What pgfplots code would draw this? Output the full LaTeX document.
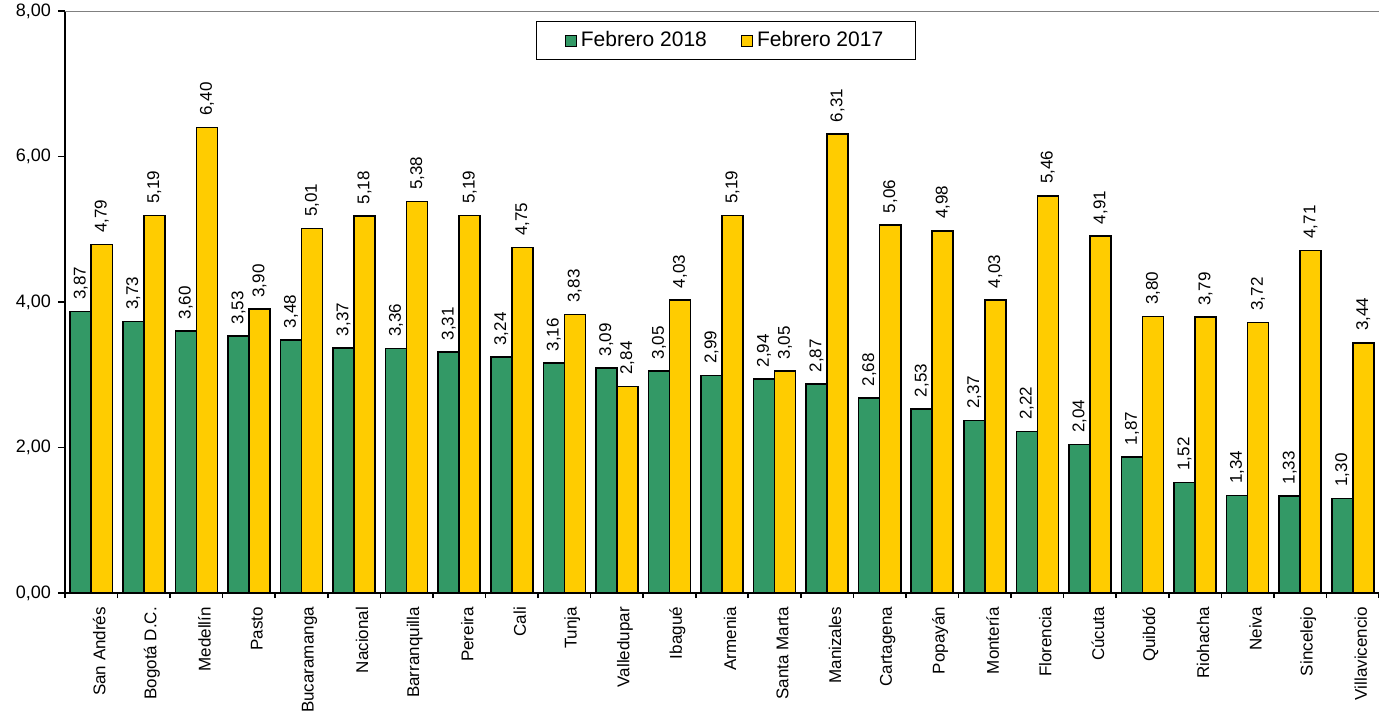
\documentclass[border=0pt]{standalone}
\usepackage{fontspec}
\setmainfont{Liberation Sans}
\usepackage{pgfplots}
\pgfplotsset{compat=1.18}
\definecolor{cgreen}{RGB}{51,153,102}
\definecolor{cyellow}{RGB}{255,204,0}
\begin{document}
\begin{tikzpicture}
\begin{axis}[
  at={(0,0)}, anchor=south west,
  scale only axis, width=657pt, height=291pt,
  xmin=-0.5, xmax=24.5, ymin=0, ymax=8,
  ybar, bar width=0.4,
  axis x line*=bottom, axis y line*=left,
  axis line style={black, line width=1pt},
  tick align=outside,
  ytick={0,2,4,6,8},
  xtick={0,...,24},
  xticklabels={San Andrés,Bogotá D.C.,Medellín,Pasto,Bucaramanga,Nacional,Barranquilla,Pereira,Cali,Tunja,Valledupar,Ibagué,Armenia,Santa Marta,Manizales,Cartagena,Popayán,Montería,Florencia,Cúcuta,Quibdó,Riohacha,Neiva,Sincelejo,Villavicencio},
  major x tick style={draw=none},
  minor xtick={-0.5,0.5,...,24.5},
  minor tick length=2.5pt,
  major tick length=3.5pt,
  tick style={black, line width=0.8pt},
  x tick label style={rotate=90, anchor=east, yshift=-4pt, font=\fontsize{8.5}{10}\selectfont},
  y tick label style={font=\fontsize{9}{10}\selectfont},
  /pgf/number format/.cd, fixed, fixed zerofill, precision=2, use comma, assume math mode=true,
  /pgfplots/.cd,
  legend style={at={(0.503,0.983)}, anchor=north, legend columns=2, draw=black, line width=0.6pt,
    font=\fontsize{10.5}{12}\selectfont, inner xsep=14pt, inner ysep=3pt,
    /tikz/every even column/.append style={column sep=15pt}},
  legend image code/.code={\draw[#1, draw=black, line width=0.6pt] (0pt,-2.75pt) rectangle (5.5pt,2.75pt);},
  nodes near coords,
  every node near coord/.append style={rotate=90, anchor=west, inner sep=5.5pt, font=\fontsize{8.5}{10}\selectfont, black},
]
\addplot[bar shift=-0.2, fill=cgreen, draw=black, line width=0.8pt] coordinates {
(0,3.87) (1,3.73) (2,3.60) (3,3.53) (4,3.48) (5,3.37) (6,3.36) (7,3.31) (8,3.24) (9,3.16)
(10,3.09) (11,3.05) (12,2.99) (13,2.94) (14,2.87) (15,2.68) (16,2.53) (17,2.37) (18,2.22) (19,2.04)
(20,1.87) (21,1.52) (22,1.34) (23,1.33) (24,1.30)};
\addlegendentry{Febrero 2018}
\addplot[bar shift=0.2, fill=cyellow, draw=black, line width=0.8pt] coordinates {
(0,4.79) (1,5.19) (2,6.40) (3,3.90) (4,5.01) (5,5.18) (6,5.38) (7,5.19) (8,4.75) (9,3.83)
(10,2.84) (11,4.03) (12,5.19) (13,3.05) (14,6.31) (15,5.06) (16,4.98) (17,4.03) (18,5.46) (19,4.91)
(20,3.80) (21,3.79) (22,3.72) (23,4.71) (24,3.44)};
\addlegendentry{Febrero 2017}
\draw[gray, line width=1pt] (rel axis cs:0,1) -- (rel axis cs:1,1);
\end{axis}
\pgfresetboundingbox
\useasboundingbox (-32.5pt,-59.5pt) rectangle (657pt,296.5pt);
\end{tikzpicture}
\end{document}
